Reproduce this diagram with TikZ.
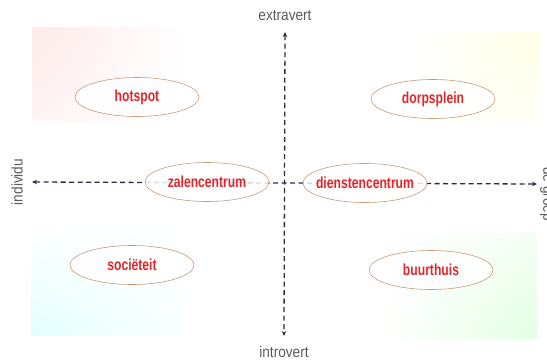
\documentclass[tikz,border=0pt]{standalone}
\usepackage{fontspec}
\setmainfont{Liberation Sans}
\usepackage{graphicx}
\usetikzlibrary{arrows.meta, shapes.geometric, shadings}

\definecolor{labelred}{HTML}{E3262B}
\definecolor{ringtan}{HTML}{C99A78}
\definecolor{axisblue}{HTML}{2B2B48}
\definecolor{axisgray}{HTML}{5A5A5A}

\tikzset{
  place/.style={ellipse, draw=ringtan, line width=0.6pt, fill=white, fill opacity=0.82,
    text opacity=1, minimum width=124pt, minimum height=39pt, inner sep=0pt,
    text=labelred, font=\fontsize{16}{16}\selectfont\bfseries},
  axislabel/.style={text=axisgray, font=\fontsize{15.5}{16}\selectfont},
  axisline/.style={axisblue, line width=1.3pt, dash pattern=on 5pt off 3.5pt,
    {Stealth[length=5pt,width=4.5pt]}-{Stealth[length=5pt,width=4.5pt]}}
}
\newcommand{\narrow}[2][0.88]{\scalebox{#1}[1]{#2}}
\newcommand{\placetext}[1]{\makebox[0pt]{\narrow[0.76]{#1}}}

\begin{document}
\begin{tikzpicture}[x=1pt, y=-1pt]
\useasboundingbox (0,0) rectangle (547,360);

% Draw the tinted corners
\shade[upper left=pink!34, upper right=white, lower left=pink!16, lower right=white] (32,27) rectangle (185,120);
\shade[upper left=white, upper right=yellow!10, lower left=white, lower right=yellow!4] (413,32) rectangle (539,120);
\shade[upper left=white, upper right=white, lower left=cyan!11, lower right=cyan!2] (31,222) rectangle (185,335);
\shade[upper left=white, upper right=green!4, lower left=white, lower right=green!11] (380,233) rectangle (537,338);

% Axis ends
\coordinate (top) at (285,32);
\coordinate (bottom) at (284,336);
\coordinate (left) at (32,182);
\coordinate (right) at (537,184);

% Draw both axes
\draw[axisline] (left) -- (right);
\draw[axisline] (top) -- (bottom);

% Axis labels
\node[axislabel] (extra) at (285,16) {\narrow{extravert}};
\node[axislabel] (intro) at (284,352) {\narrow{introvert}};
\node[axislabel, rotate=90] (indiv) at (17,182) {\narrow{individu}};
\node[axislabel, rotate=-90, anchor=south, inner sep=0pt] (group) at (540,194) {\narrow{de groep}};

% The places
\node[place] (hotspot) at (137,97) {\placetext{hotspot}};
\node[place] (dorpsplein) at (433,99) {\placetext{dorpsplein}};
\node[place] (zalen) at (207,182) {\placetext{zalencentrum}};
\node[place] (diensten) at (365,183) {\placetext{dienstencentrum}};
\node[place] (societeit) at (132,265) {\placetext{sociëteit}};
\node[place] (buurthuis) at (431,270) {\placetext{buurthuis}};
\end{tikzpicture}
\end{document}
